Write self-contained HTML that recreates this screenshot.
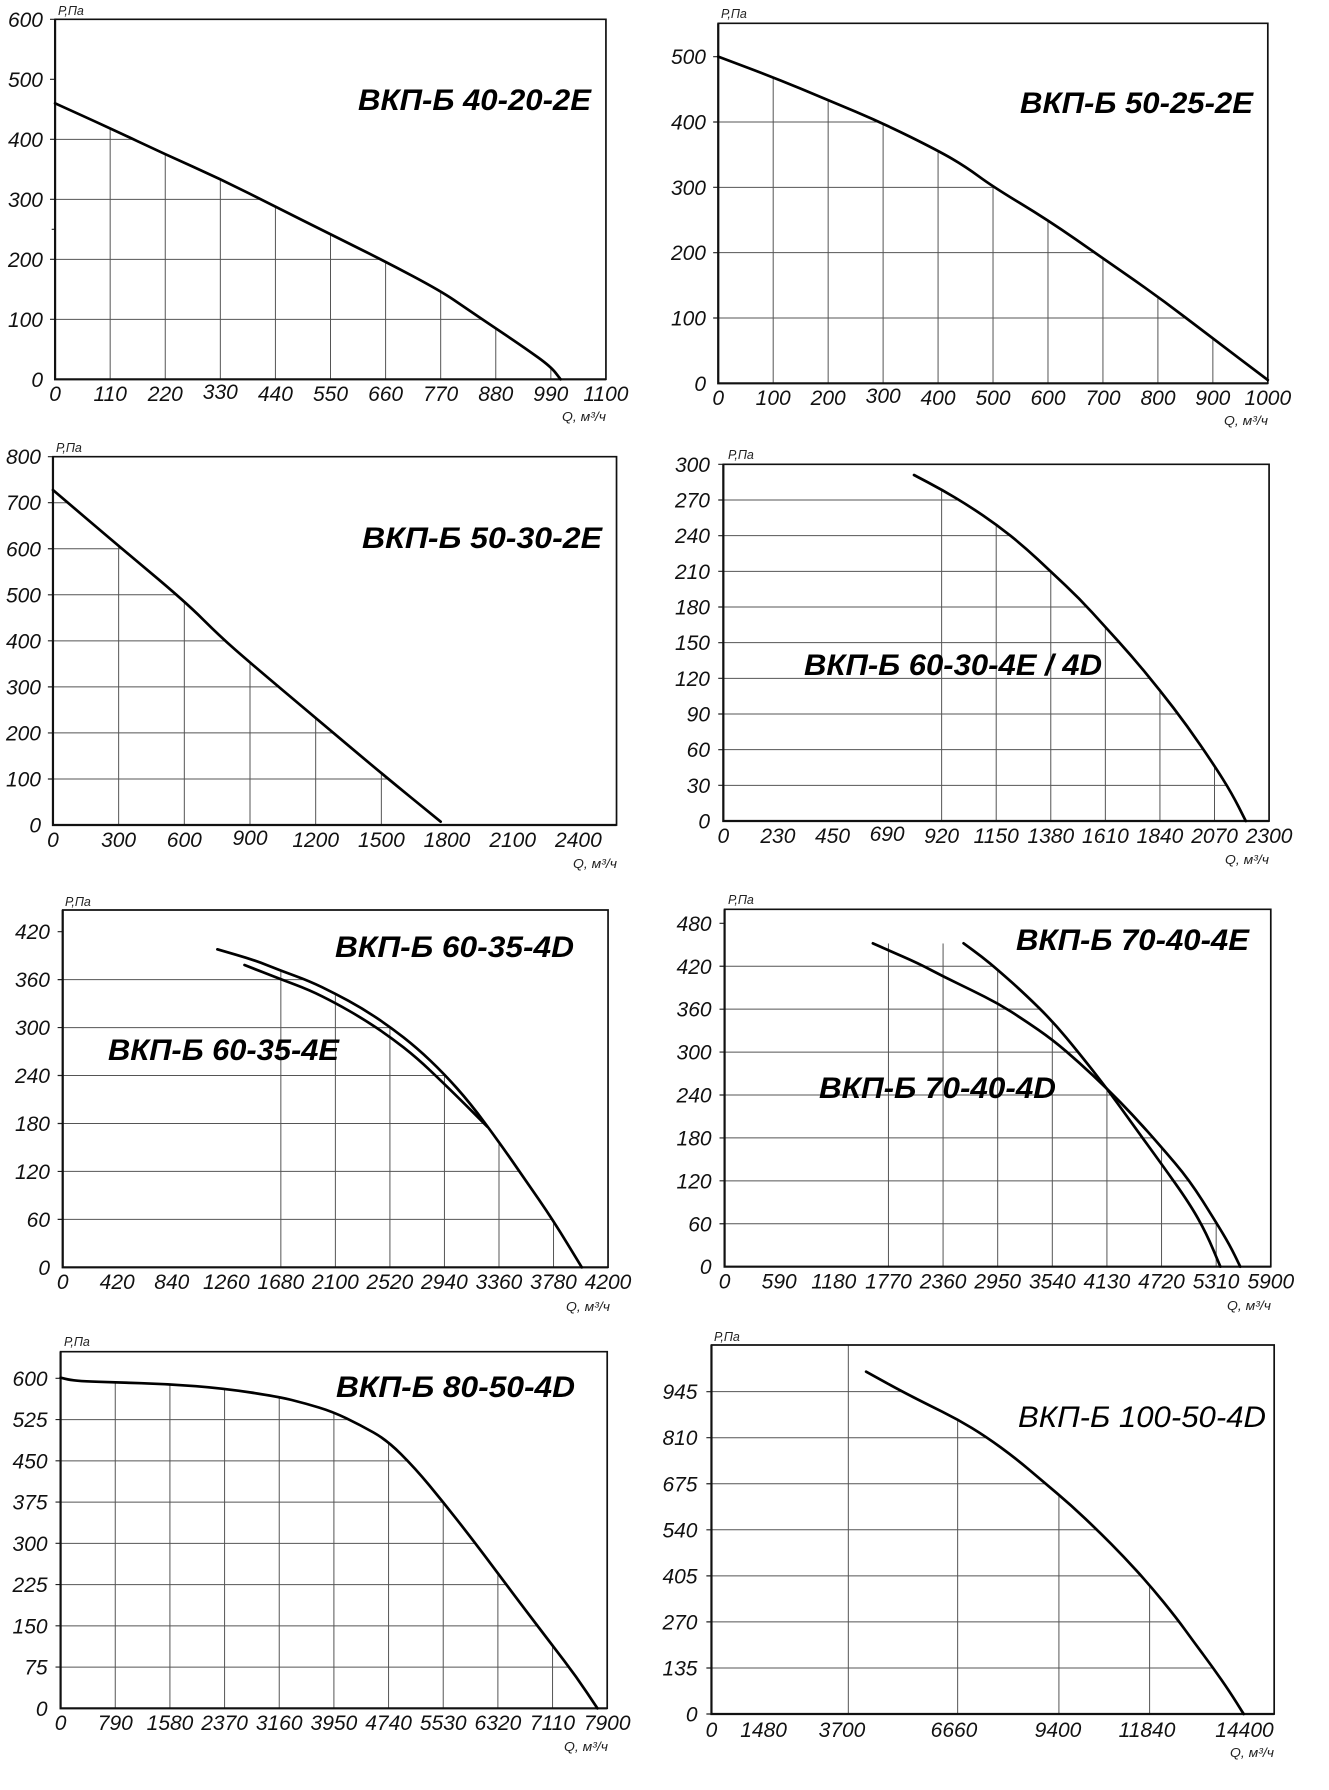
<!DOCTYPE html>
<html><head><meta charset="utf-8"><style>
html,body{margin:0;padding:0;background:#fff}
svg{display:block}
.c *{vector-effect:non-scaling-stroke}
.g path{fill:none;stroke:#555;stroke-width:1}
.tk{fill:none;stroke:#222;stroke-width:1.2}
.bd{fill:none;stroke:#111;stroke-width:1.7}
.ax{fill:none;stroke:#111;stroke-width:2.2}
.cv{fill:none;stroke:#000;stroke-width:2.7;stroke-linejoin:round;stroke-linecap:round}
.t{font-family:"Liberation Sans",sans-serif;font-style:italic;font-size:21px;fill:#111}
.y{text-anchor:end}
.x{text-anchor:middle}
.u{font-family:"Liberation Sans",sans-serif;font-style:italic;font-size:12.5px;fill:#222}
.ue{font-family:"Liberation Sans",sans-serif;font-style:italic;font-size:13px;fill:#222;text-anchor:end}
.ti{font-family:"Liberation Sans",sans-serif;font-style:italic;font-weight:bold;font-size:30px;fill:#000}
.tr{font-family:"Liberation Sans",sans-serif;font-style:italic;font-weight:normal;font-size:30px;fill:#000}
</style></head><body>
<svg width="1329" height="1790" viewBox="0 0 1329 1790" xmlns="http://www.w3.org/2000/svg">
<rect width="1329" height="1790" fill="#fff"/>

<!-- ===== Chart 1 ===== -->
<g class="c" transform="translate(0 0) scale(0.42373 0.33333)">
<clipPath id="k1" clipPathUnits="userSpaceOnUse"><polygon points="130,310 260,385 390,463 520,537 650,620 780,703 910,785 1040,873 1100,925 1170,985 1240,1045 1300,1100 1323,1138 130,1138"/></clipPath>
<g class="g" clip-path="url(#k1)"><path d="M130 418H1430M130 598H1430M130 778H1430M130 958H1430M260 58V1138M390 58V1138M520 58V1138M650 58V1138M780 58V1138M910 58V1138M1040 58V1138M1170 58V1138M1300 58V1138"/></g>
<path class="tk" d="M118 58H130M118 238H130M118 418H130M118 598H130M118 778H130M118 958H130M122 688H130"/>
<rect class="bd" x="130" y="58" width="1300" height="1080"/>
<path class="ax" d="M130 58V1138H1430"/>
<path class="cv" d="M130 310 L195 347.5 Q260 385 325 424 Q390 463 455 500 Q520 537 585 578.5 Q650 620 715 661.5 Q780 703 845 744 Q910 785 975 829 Q1040 873 1070 899 Q1100 925 1135 955 Q1170 985 1205 1015 Q1240 1045 1270 1072.5 Q1300 1100 1311.5 1119 L1323 1138"/>
</g>
<text class="u" x="58" y="15">Р,Па</text>
<text class="ue" x="606" y="421" textLength="44" lengthAdjust="spacingAndGlyphs">Q, м³/ч</text>
<text class="ti" x="358" y="110" textLength="233" lengthAdjust="spacingAndGlyphs">ВКП-Б 40-20-2Е</text>
<g class="t y">
<text x="43" y="26.8">600</text><text x="43" y="86.8">500</text><text x="43" y="146.8">400</text><text x="43" y="206.8">300</text><text x="43" y="266.8">200</text><text x="43" y="326.8">100</text><text x="43" y="386.8">0</text>
</g>
<g class="t x">
<text x="55.1" y="401">0</text><text x="110.2" y="401">110</text><text x="165.3" y="401">220</text><text x="220.3" y="399">330</text><text x="275.4" y="401">440</text><text x="330.5" y="401">550</text><text x="385.6" y="401">660</text><text x="440.7" y="401">770</text><text x="495.8" y="401">880</text><text x="550.8" y="401">990</text><text x="605.9" y="401">1100</text>
</g>

<!-- ===== Chart 2 ===== -->
<g class="c" transform="translate(664 0) scale(0.42373 0.33333)">
<clipPath id="k2" clipPathUnits="userSpaceOnUse"><polygon points="128,170 258,232 387,300 517,370 647,452 712,500 776,560 906,660 1036,775 1166,890 1295,1015 1425,1140 1425,1150 128,1150"/></clipPath>
<g class="g" clip-path="url(#k2)"><path d="M128 366H1425M128 562H1425M128 758H1425M128 954H1425M257.7 70V1150M387.4 70V1150M517.1 70V1150M646.8 70V1150M776.5 70V1150M906.2 70V1150M1035.9 70V1150M1165.6 70V1150M1295.3 70V1150"/></g>
<path class="tk" d="M116 170H128M116 366H128M116 562H128M116 758H128M116 954H128"/>
<rect class="bd" x="128" y="70" width="1297" height="1080"/>
<path class="ax" d="M128 70V1150H1425"/>
<path class="cv" d="M128 170 L193 201 Q258 232 322.5 266 Q387 300 452 335 Q517 370 582 411 Q647 452 679.5 476 Q712 500 744 530 Q776 560 841 610 Q906 660 971 717.5 Q1036 775 1101 832.5 Q1166 890 1230.5 952.5 Q1295 1015 1360 1077.5 L1425 1140"/>
</g>
<text class="u" x="721" y="18">Р,Па</text>
<text class="ue" x="1268" y="425" textLength="44" lengthAdjust="spacingAndGlyphs">Q, м³/ч</text>
<text class="ti" x="1020" y="113" textLength="233" lengthAdjust="spacingAndGlyphs">ВКП-Б 50-25-2Е</text>
<g class="t y">
<text x="706" y="64.2">500</text><text x="706" y="129.5">400</text><text x="706" y="194.8">300</text><text x="706" y="260.2">200</text><text x="706" y="325.5">100</text><text x="706" y="390.8">0</text>
</g>
<g class="t x">
<text x="718.2" y="405">0</text><text x="773.2" y="405">100</text><text x="828.2" y="405">200</text><text x="883.2" y="403">300</text><text x="938" y="405">400</text><text x="993" y="405">500</text><text x="1048" y="405">600</text><text x="1103" y="405">700</text><text x="1158" y="405">800</text><text x="1212.8" y="405">900</text><text x="1267.8" y="405">1000</text>
</g>

<!-- ===== Chart 3 ===== -->
<g class="c" transform="translate(0 440) scale(0.42373 0.33333)">
<clipPath id="k3" clipPathUnits="userSpaceOnUse"><polygon points="125,150 280,318 437,485 520,590 590,668 746,835 900,1000 1040,1145 1040,1155 125,1155"/></clipPath>
<g class="g" clip-path="url(#k3)"><path d="M125 188.1H1455M125 326.3H1455M125 464.4H1455M125 602.5H1455M125 740.6H1455M125 878.8H1455M125 1016.9H1455M280 50V1155M435 50V1155M590 50V1155M745 50V1155M900 50V1155"/></g>
<path class="tk" d="M113 50H125M113 188.1H125M113 326.3H125M113 464.4H125M113 602.5H125M113 740.6H125M113 878.8H125M113 1016.9H125"/>
<rect class="bd" x="125" y="50" width="1330" height="1105"/>
<path class="ax" d="M125 50V1155H1455"/>
<path class="cv" d="M125 150 L202.5 234 Q280 318 358.5 401.5 Q437 485 478.5 537.5 Q520 590 555 629 Q590 668 668 751.5 Q746 835 823 917.5 Q900 1000 970 1072.5 L1040 1145"/>
</g>
<text class="u" x="56" y="452">Р,Па</text>
<text class="ue" x="617" y="868" textLength="44" lengthAdjust="spacingAndGlyphs">Q, м³/ч</text>
<text class="ti" x="362" y="548" textLength="240" lengthAdjust="spacingAndGlyphs">ВКП-Б 50-30-2Е</text>
<g class="t y">
<text x="41" y="464.2">800</text><text x="41" y="510.2">700</text><text x="41" y="556.3">600</text><text x="41" y="602.3">500</text><text x="41" y="648.3">400</text><text x="41" y="694.4">300</text><text x="41" y="740.4">200</text><text x="41" y="786.5">100</text><text x="41" y="832.5">0</text>
</g>
<g class="t x">
<text x="53" y="847">0</text><text x="118.6" y="847">300</text><text x="184.3" y="847">600</text><text x="250" y="845">900</text><text x="315.7" y="847">1200</text><text x="381.4" y="847">1500</text><text x="447" y="847">1800</text><text x="512.7" y="847">2100</text><text x="578.4" y="847">2400</text>
</g>

<!-- ===== Chart 4 ===== -->
<g class="c" transform="translate(664 440) scale(0.42373 0.33333)">
<clipPath id="k4" clipPathUnits="userSpaceOnUse"><polygon points="140,105 590,105 657,150 720,198 786,255 850,320 913,395 980,475 1041,560 1105,650 1170,750 1235,858 1298,975 1340,1060 1373,1143 140,1143"/></clipPath>
<g class="g" clip-path="url(#k4)"><path d="M140 180H1428M140 287H1428M140 394H1428M140 501H1428M140 608H1428M140 715H1428M140 822H1428M140 929H1428M140 1036H1428M655.2 73V1143M784 73V1143M912.8 73V1143M1041.6 73V1143M1170.4 73V1143M1299.2 73V1143"/></g>
<path class="tk" d="M128 73H140M128 180H140M128 287H140M128 394H140M128 501H140M128 608H140M128 715H140M128 822H140M128 929H140M128 1036H140"/>
<rect class="bd" x="140" y="73" width="1288" height="1070"/>
<path class="ax" d="M140 73V1143H1428"/>
<path class="cv" d="M590 105 L623.5 127.5 Q657 150 688.5 174 Q720 198 753 226.5 Q786 255 818 287.5 Q850 320 881.5 357.5 Q913 395 946.5 435 Q980 475 1010.5 517.5 Q1041 560 1073 605 Q1105 650 1137.5 700 Q1170 750 1202.5 804 Q1235 858 1266.5 916.5 Q1298 975 1319 1017.5 Q1340 1060 1356.5 1101.5 L1373 1143"/>
</g>
<text class="u" x="728" y="459">Р,Па</text>
<text class="ue" x="1269" y="864" textLength="44" lengthAdjust="spacingAndGlyphs">Q, м³/ч</text>
<text class="ti" x="804" y="675" textLength="298" lengthAdjust="spacingAndGlyphs">ВКП-Б 60-30-4Е / 4D</text>
<g class="t y">
<text x="710" y="471.8">300</text><text x="710" y="507.5">270</text><text x="710" y="543.2">240</text><text x="710" y="578.8">210</text><text x="710" y="614.5">180</text><text x="710" y="650.2">150</text><text x="710" y="685.8">120</text><text x="710" y="721.5">90</text><text x="710" y="757.2">60</text><text x="710" y="792.8">30</text><text x="710" y="828.5">0</text>
</g>
<g class="t x">
<text x="723.3" y="843">0</text><text x="777.9" y="843">230</text><text x="832.5" y="843">450</text><text x="887.1" y="841">690</text><text x="941.6" y="843">920</text><text x="996.2" y="843">1150</text><text x="1050.8" y="843">1380</text><text x="1105.4" y="843">1610</text><text x="1160" y="843">1840</text><text x="1214.6" y="843">2070</text><text x="1269.1" y="843">2300</text>
</g>

<!-- ===== Chart 5 ===== -->
<g class="c" transform="translate(0 880) scale(0.42373 0.33333)">
<clipPath id="k5" clipPathUnits="userSpaceOnUse"><polygon points="148,208 513,208 600,240 663,272 730,303 790,340 855,385 920,440 985,505 1047,580 1110,670 1177,785 1240,900 1305,1020 1373,1162 148,1162"/></clipPath>
<g class="g" clip-path="url(#k5)"><path d="M148 298.9H1435M148 442.7H1435M148 586.6H1435M148 730.4H1435M148 874.3H1435M148 1018.1H1435M662.8 90V1162M791.5 90V1162M920.2 90V1162M1048.9 90V1162M1177.6 90V1162M1306.3 90V1162"/></g>
<path class="tk" d="M136 155H148M136 298.9H148M136 442.7H148M136 586.6H148M136 730.4H148M136 874.3H148M136 1018.1H148"/>
<rect class="bd" x="148" y="90" width="1287" height="1072"/>
<path class="ax" d="M148 90V1162H1435"/>
<path class="cv" d="M513 208 L556.5 224 Q600 240 631.5 256 Q663 272 696.5 287.5 Q730 303 760 321.5 Q790 340 822.5 362.5 Q855 385 887.5 412.5 Q920 440 952.5 472.5 Q985 505 1016 542.5 Q1047 580 1078.5 625 Q1110 670 1143.5 727.5 Q1177 785 1208.5 842.5 Q1240 900 1272.5 960 Q1305 1020 1339 1091 L1373 1162"/>
<path class="cv" d="M577 255 L620 276.5 Q663 298 696.5 314 Q730 330 760 349 Q790 368 822.5 391.5 Q855 415 887.5 442.5 Q920 470 952.5 502.5 Q985 535 1016 572.5 Q1047 610 1073.5 643 Q1100 676 1125 708 L1150 740"/>
</g>
<text class="u" x="65" y="906">Р,Па</text>
<text class="ue" x="610" y="1311" textLength="44" lengthAdjust="spacingAndGlyphs">Q, м³/ч</text>
<text class="ti" x="335" y="957" textLength="239" lengthAdjust="spacingAndGlyphs">ВКП-Б 60-35-4D</text>
<text class="ti" x="108" y="1060" textLength="231" lengthAdjust="spacingAndGlyphs">ВКП-Б 60-35-4Е</text>
<g class="t y">
<text x="50" y="939.2">420</text><text x="50" y="987.1">360</text><text x="50" y="1035.1">300</text><text x="50" y="1083">240</text><text x="50" y="1131">180</text><text x="50" y="1178.9">120</text><text x="50" y="1226.9">60</text><text x="50" y="1274.8">0</text>
</g>
<g class="t x">
<text x="62.7" y="1289">0</text><text x="117.2" y="1289">420</text><text x="171.8" y="1289">840</text><text x="226.3" y="1289">1260</text><text x="280.8" y="1289">1680</text><text x="335.4" y="1289">2100</text><text x="389.9" y="1289">2520</text><text x="444.4" y="1289">2940</text><text x="499" y="1289">3360</text><text x="553.5" y="1289">3780</text><text x="608" y="1289">4200</text>
</g>

<!-- ===== Chart 6 ===== -->
<g class="c" transform="translate(664 880) scale(0.42373 0.33333)">
<clipPath id="k6" clipPathUnits="userSpaceOnUse"><polygon points="143,190 707,190 750,230 788,270 850,340 918,425 980,520 1045,625 1110,710 1173,800 1240,900 1302,1025 1335,1095 1360,1160 143,1160"/></clipPath>
<g class="g" clip-path="url(#k6)"><path d="M143 258.75H1432M143 387.5H1432M143 516.25H1432M143 645H1432M143 773.75H1432M143 902.5H1432M143 1031.25H1432M529.7 88V1160M658.6 88V1160M787.5 88V1160M916.4 88V1160M1045.3 88V1160M1174.2 88V1160M1303.1 88V1160"/></g>
<path class="tk" d="M131 130H143M131 258.75H143M131 387.5H143M131 516.25H143M131 645H143M131 773.75H143M131 902.5H143M131 1031.25H143"/>
<rect class="bd" x="143" y="88" width="1289" height="1072"/>
<path class="ax" d="M143 88V1160H1432"/>
<path class="cv" d="M493 190 L510.5 200 Q528 210 564 230 Q600 250 630 270 Q660 290 692.5 310 Q725 330 756.5 350 Q788 370 819 395 Q850 420 884 450 Q918 480 949 514 Q980 548 1012.5 586.5 Q1045 625 1077.5 667.5 Q1110 710 1141.5 755 Q1173 800 1206.5 850 Q1240 900 1271 962.5 Q1302 1025 1318.5 1060 Q1335 1095 1347.5 1127.5 L1360 1160"/>
<path class="cv" d="M707 190 L728.5 210 Q750 230 769 250 Q788 270 819 305 Q850 340 884 382.5 Q918 425 949 472.5 Q980 520 1012.5 572.5 Q1045 625 1077.5 682.5 Q1110 740 1141.5 795 Q1173 850 1206.5 910 Q1240 970 1260 1015 Q1280 1060 1296.5 1110 L1313 1160"/>
</g>
<text class="u" x="728" y="904">Р,Па</text>
<text class="ue" x="1271" y="1310" textLength="44" lengthAdjust="spacingAndGlyphs">Q, м³/ч</text>
<text class="ti" x="1016" y="950" textLength="233" lengthAdjust="spacingAndGlyphs">ВКП-Б 70-40-4Е</text>
<text class="ti" x="819" y="1098" textLength="237" lengthAdjust="spacingAndGlyphs">ВКП-Б 70-40-4D</text>
<g class="t y">
<text x="711.6" y="930.8">480</text><text x="711.6" y="973.75">420</text><text x="711.6" y="1016.7">360</text><text x="711.6" y="1059.6">300</text><text x="711.6" y="1102.5">240</text><text x="711.6" y="1145.4">180</text><text x="711.6" y="1188.3">120</text><text x="711.6" y="1231.25">60</text><text x="711.6" y="1274.2">0</text>
</g>
<g class="t x">
<text x="724.6" y="1288.7">0</text><text x="779.2" y="1288.7">590</text><text x="833.8" y="1288.7">1180</text><text x="888.5" y="1288.7">1770</text><text x="943.1" y="1288.7">2360</text><text x="997.7" y="1288.7">2950</text><text x="1052.3" y="1288.7">3540</text><text x="1106.9" y="1288.7">4130</text><text x="1161.5" y="1288.7">4720</text><text x="1216.1" y="1288.7">5310</text><text x="1270.8" y="1288.7">5900</text>
</g>

<!-- ===== Chart 7 ===== -->
<g class="c" transform="translate(0 1330) scale(0.42373 0.33333)">
<clipPath id="k7" clipPathUnits="userSpaceOnUse"><polygon points="143,143 165,150 200,154 268,157 398,162 527,175 657,200 720,220 785,245 850,285 913,330 980,415 1045,515 1110,620 1175,730 1240,840 1303,945 1360,1040 1410,1135 143,1135"/></clipPath>
<g class="g" clip-path="url(#k7)"><path d="M143 268.75H1433M143 392.5H1433M143 516.25H1433M143 640H1433M143 763.75H1433M143 887.5H1433M143 1011.25H1433M272 65V1135M401 65V1135M530 65V1135M659 65V1135M788 65V1135M917 65V1135M1046 65V1135M1175 65V1135M1304 65V1135"/></g>
<path class="tk" d="M131 145H143M131 268.75H143M131 392.5H143M131 516.25H143M131 640H143M131 763.75H143M131 887.5H143M131 1011.25H143"/>
<rect class="bd" x="143" y="65" width="1290" height="1070"/>
<path class="ax" d="M143 65V1135H1433"/>
<path class="cv" d="M143 143 L154 146.5 Q165 150 182.5 152 Q200 154 234 155.5 Q268 157 333 159.5 Q398 162 462.5 168.5 Q527 175 592 187.5 Q657 200 688.5 210 Q720 220 752.5 232.5 Q785 245 817.5 265 Q850 285 881.5 307.5 Q913 330 946.5 372.5 Q980 415 1012.5 465 Q1045 515 1077.5 567.5 Q1110 620 1142.5 675 Q1175 730 1207.5 785 Q1240 840 1271.5 892.5 Q1303 945 1331.5 992.5 Q1360 1040 1385 1087.5 L1410 1135"/>
</g>
<text class="u" x="64" y="1346">Р,Па</text>
<text class="ue" x="608" y="1751" textLength="44" lengthAdjust="spacingAndGlyphs">Q, м³/ч</text>
<text class="ti" x="336" y="1397" textLength="239" lengthAdjust="spacingAndGlyphs">ВКП-Б 80-50-4D</text>
<g class="t y">
<text x="47.6" y="1385.8">600</text><text x="47.6" y="1427.1">525</text><text x="47.6" y="1468.3">450</text><text x="47.6" y="1509.6">375</text><text x="47.6" y="1550.8">300</text><text x="47.6" y="1592.1">225</text><text x="47.6" y="1633.3">150</text><text x="47.6" y="1674.6">75</text><text x="47.6" y="1715.8">0</text>
</g>
<g class="t x">
<text x="60.6" y="1730">0</text><text x="115.3" y="1730">790</text><text x="170" y="1730">1580</text><text x="224.6" y="1730">2370</text><text x="279.2" y="1730">3160</text><text x="333.9" y="1730">3950</text><text x="388.6" y="1730">4740</text><text x="443.2" y="1730">5530</text><text x="497.9" y="1730">6320</text><text x="552.5" y="1730">7110</text><text x="607.2" y="1730">7900</text>
</g>

<!-- ===== Chart 8 ===== -->
<g class="c" transform="translate(664 1330) scale(0.42373 0.33333)">
<clipPath id="k8" clipPathUnits="userSpaceOnUse"><polygon points="112,125 477,125 555,180 620,222 693,268 760,320 830,385 895,455 960,525 1025,603 1085,680 1146,765 1210,865 1250,935 1295,1012 1335,1085 1368,1152 112,1152"/></clipPath>
<g class="g" clip-path="url(#k8)"><path d="M112 185H1440M112 323.1H1440M112 461.3H1440M112 599.4H1440M112 737.6H1440M112 875.7H1440M112 1013.9H1440M693 45V1152M932 45V1152M1146 45V1152"/></g>
<g class="g"><path d="M435 45V1152"/></g>
<path class="tk" d="M100 185H112M100 323.1H112M100 461.3H112M100 599.4H112M100 737.6H112M100 875.7H112M100 1013.9H112M100 1152H112"/>
<rect class="bd" x="112" y="45" width="1328" height="1107"/>
<path class="ax" d="M112 45V1152H1440"/>
<path class="cv" d="M477 125 L516 152.5 Q555 180 587.5 201 Q620 222 656.5 245 Q693 268 726.5 294 Q760 320 795 352.5 Q830 385 862.5 420 Q895 455 927.5 490 Q960 525 992.5 564 Q1025 603 1055 641.5 Q1085 680 1115.5 722.5 Q1146 765 1178 815 Q1210 865 1230 900 Q1250 935 1272.5 973.5 Q1295 1012 1315 1048.5 Q1335 1085 1351.5 1118.5 L1368 1152"/>
</g>
<text class="u" x="714" y="1341">Р,Па</text>
<text class="ue" x="1274" y="1757" textLength="44" lengthAdjust="spacingAndGlyphs">Q, м³/ч</text>
<text class="tr" x="1018" y="1427" textLength="248" lengthAdjust="spacingAndGlyphs">ВКП-Б 100-50-4D</text>
<g class="t y">
<text x="697.5" y="1399.2">945</text><text x="697.5" y="1445.2">810</text><text x="697.5" y="1491.3">675</text><text x="697.5" y="1537.3">540</text><text x="697.5" y="1583.4">405</text><text x="697.5" y="1629.4">270</text><text x="697.5" y="1675.5">135</text><text x="697.5" y="1721.5">0</text>
</g>
<g class="t x">
<text x="711.5" y="1737">0</text><text x="763.6" y="1737">1480</text><text x="842" y="1737">3700</text><text x="954" y="1737">6660</text><text x="1058" y="1737">9400</text><text x="1147" y="1737">11840</text><text x="1244.5" y="1737">14400</text>
</g>
</svg>
</body></html>
